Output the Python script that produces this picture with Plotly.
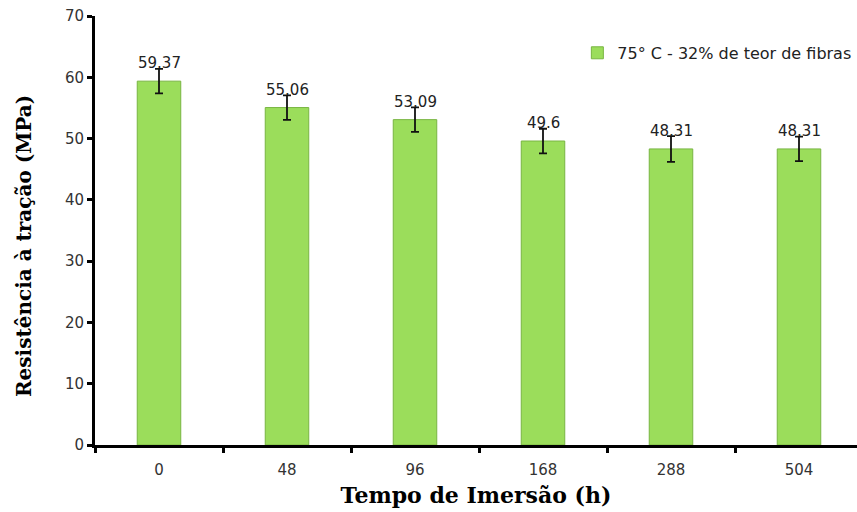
import plotly.graph_objects as go

# Immersion time (h) and tensile strength (MPa)
tempos = ["0", "48", "96", "168", "288", "504"]
resistencia = [59.37, 55.06, 53.09, 49.6, 48.31, 48.31]
desvio = [2.0, 2.0, 2.0, 2.0, 2.1, 2.0]
rotulos = ["59.37", "55.06", "53.09", "49.6", "48.31", "48.31"]
serie = "75° C - 32% de teor de fibras"

W, H = 857, 512
L, T, B = 95, 16, 67
spacing = 128.0
plot_w = W - L
plot_h = H - T - B
x_max = -0.5 + plot_w / spacing

fig = go.Figure()
fig.add_trace(go.Bar(
    x=tempos,
    y=resistencia,
    name=serie,
    width=0.34,
    marker=dict(color="#9BDD5B", line=dict(color="#78B542", width=1)),
    error_y=dict(type="data", array=desvio, visible=True,
                 color="#111111", thickness=1.8, width=4),
    showlegend=True,
))

# value labels sitting above each bar (category index as x position)
for i, (v, r) in enumerate(zip(resistencia, rotulos)):
    fig.add_annotation(
        x=i, y=v, text=r, showarrow=False,
        xref="x", yref="y",
        yanchor="middle", yshift=18,
        font=dict(family="DejaVu Sans", size=15, color="#222222"),
    )

# y-axis title placed as a rotated annotation
fig.add_annotation(
    text="<b>Resistência à tração (MPa)</b>",
    xref="paper", yref="paper",
    x=(24 - L) / plot_w, y=(H - B - 246) / plot_h,
    xanchor="center", yanchor="middle",
    textangle=-90, showarrow=False,
    font=dict(family="DejaVu Serif", size=20, color="black"),
)

fig.update_layout(
    width=W, height=H,
    margin=dict(l=L, r=0, t=T, b=B),
    paper_bgcolor="white",
    plot_bgcolor="white",
    legend=dict(
        x=0.633, y=0.914, xanchor="left", yanchor="middle",
        xref="paper", yref="paper",
        font=dict(family="DejaVu Sans", size=16, color="#222222"),
        bgcolor="rgba(0,0,0,0)",
        itemwidth=30,
    ),
    xaxis=dict(
        type="category",
        range=[-0.5, x_max],
        tickson="boundaries",
        ticks="outside", ticklen=5, tickwidth=3, tickcolor="black",
        showline=True, linecolor="black", linewidth=3,
        showgrid=False,
        ticklabelstandoff=9,
        tickfont=dict(family="DejaVu Sans", size=15, color="#333333"),
        title=dict(text="<b>Tempo de Imersão (h)</b>",
                   font=dict(family="DejaVu Serif", size=22, color="black"),
                   standoff=10),
    ),
    yaxis=dict(
        range=[0, 70],
        dtick=10,
        ticks="outside", ticklen=5, tickwidth=3, tickcolor="black",
        showline=True, linecolor="black", linewidth=3,
        showgrid=False, zeroline=False,
        tickfont=dict(family="DejaVu Sans", size=15, color="#333333"),
    ),
)

fig.write_html("out.html")
